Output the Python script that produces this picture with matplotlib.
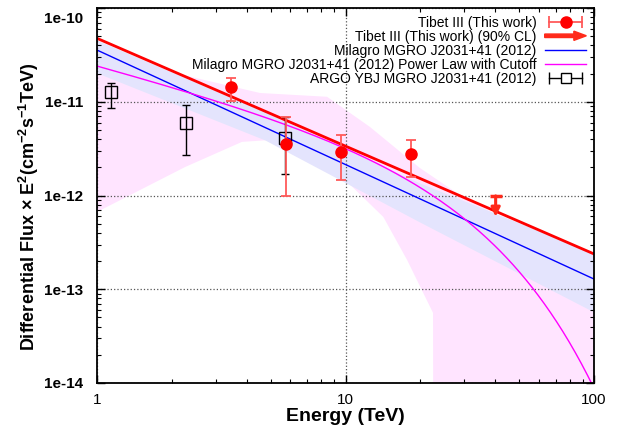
import numpy as np
import matplotlib
matplotlib.use("Agg")
import matplotlib.pyplot as plt
import matplotlib.patches as mpatches
import matplotlib.transforms as mtransforms
from matplotlib.legend_handler import HandlerPatch, HandlerLine2D, HandlerTuple
from matplotlib.ticker import FixedLocator, FuncFormatter, NullFormatter

plt.rcParams['font.family'] = ['Liberation Sans', 'DejaVu Sans']
plt.rcParams['mathtext.fontset'] = 'custom'
plt.rcParams['mathtext.rm'] = 'Liberation Sans'
plt.rcParams['mathtext.bf'] = 'Liberation Sans:bold'
plt.rcParams['mathtext.default'] = 'bf'

# ---------------- data ----------------
# Tibet III (This work)
tibet_E = [3.46, 5.75, 9.59, 18.35]
tibet_F = [1.44e-11, 3.52e-12, 2.93e-12, 2.75e-12]
tibet_F_hi = [1.79e-11, 6.87e-12, 4.42e-12, 3.91e-12]
tibet_F_lo = [1.02e-11, 9.9e-13, 1.45e-12, 1.58e-12]

# Tibet III upper limit (90% CL)
ul_E = [40.2]
ul_F = [9.9e-13]
ul_arrow_frac = 0.6

# Tibet III power-law fit line
tibet_line_E = [1.0, 100.0]
tibet_line_F = [4.75e-11, 2.38e-13]

# Milagro power law
milagro_E = [1.0, 100.0]
milagro_F = [3.56e-11, 1.285e-13]
milagro_band_E = [1.0, 4.74, 19.9, 100.0]
milagro_band_hi = [4.56e-11, 7.78e-12, 1.36e-12, 2.44e-13]
milagro_band_lo = [2.03e-11, 3.91e-12, 5.21e-13, 5.71e-14]

# Milagro power law with cutoff: E^2 dN/dE = N * E^(2-gamma) * exp(-E/Ec)
cut_N = 2.52e-11
cut_gamma = 2.695
cut_Ec = 21.0
cut_band_up_E = [1.0, 4.53, 8.43, 12.55, 19.9, 28.9, 40.7, 100.0]
cut_band_up_F = [3.16e-11, 1.24e-11, 1.13e-11, 5.38e-12, 1.97e-12, 1.01e-12, 6.19e-13, 2.15e-13]
cut_band_lo_E = [1.0, 2.26, 3.83, 4.97, 8.66, 14.2, 17.7, 22.5, 22.6, 100.0]
cut_band_lo_F = [6.67e-13, 2.01e-12, 3.73e-12, 3.91e-12, 2.11e-12, 5.9e-13, 2.05e-13, 5.6e-14, 1e-16, 1e-16]

# ARGO-YBJ
argo_E = [1.14, 2.28, 5.71]
argo_F = [1.28e-11, 5.98e-12, 4.14e-12]
argo_F_hi = [1.57e-11, 9.2e-12, 6.94e-12]
argo_F_lo = [8.65e-12, 2.7e-12, 1.69e-12]

labels = ["Tibet III (This work)",
          "Tibet III (This work) (90% CL)",
          "Milagro MGRO J2031+41 (2012)",
          "Milagro MGRO J2031+41 (2012) Power Law with Cutoff",
          "ARGO YBJ MGRO J2031+41 (2012)"]

x_major = [1, 10, 100]
y_major = [1e-14, 1e-13, 1e-12, 1e-11, 1e-10]

RED = '#ff0000'
RED_ERR = '#ff5a5a'
RED_UL = '#ff2a1a'

# ---------------- figure ----------------
fig = plt.figure(figsize=(6.19, 4.30), dpi=100)
ax = fig.add_axes([97/619, 1-383/430, (594-97)/619, (383-8)/430])
ax.set_xscale('log')
ax.set_yscale('log')
ax.set_xlim(1, 100)
ax.set_ylim(1e-14, 1e-10)

# bands
pink_x = np.concatenate([cut_band_up_E, cut_band_lo_E[::-1]])
pink_y = np.concatenate([cut_band_up_F, cut_band_lo_F[::-1]])
ax.fill(pink_x, pink_y, color='#ffe4ff', lw=0, zorder=1)
ax.fill_between(milagro_band_E, milagro_band_lo, milagro_band_hi,
                color='#e4e4fd', lw=0, zorder=1.1)

# lines
ax.plot(tibet_line_E, tibet_line_F, color=RED, lw=2.0, zorder=4)
ax.plot(milagro_E, milagro_F, color='#0000ff', lw=1.0, zorder=3)
Ec = np.logspace(0, 2, 400)
ax.plot(Ec, cut_N * Ec**(2 - cut_gamma) * np.exp(-Ec / cut_Ec),
        color='#ff00ff', lw=1.0, zorder=3)

# Tibet points
tE = np.array(tibet_E); tF = np.array(tibet_F)
yerr = [tF - np.array(tibet_F_lo), np.array(tibet_F_hi) - tF]
ax.errorbar(tE, tF, yerr=yerr, fmt='o', color=RED, ms=8,
            ecolor=RED_ERR, elinewidth=1.3, capsize=3.5, capthick=1.3, zorder=6)

# upper limit
ax.plot(ul_E, ul_F, marker='_', ms=9, mew=2.5, color=RED_UL, ls='none', zorder=6)
for e, f in zip(ul_E, ul_F):
    ax.annotate('', xy=(e, f * ul_arrow_frac), xytext=(e, f),
                arrowprops=dict(arrowstyle='-|>', color=RED_UL, lw=2.2,
                                mutation_scale=13, shrinkA=0, shrinkB=0), zorder=6)

# ARGO
aE = np.array(argo_E); aF = np.array(argo_F)
ayerr = [aF - np.array(argo_F_lo), np.array(argo_F_hi) - aF]
ax.errorbar(aE, aF, yerr=ayerr, fmt='s', mfc='none', mec='black', ms=8, mew=1.0,
            ecolor='black', elinewidth=1.0, capsize=3, capthick=1.0, zorder=5)

# axes styling
ax.grid(True, which='major', ls=':', color='#555555', lw=0.9)
ax.set_axisbelow(False)
for gl in ax.get_xgridlines() + ax.get_ygridlines():
    gl.set_zorder(2)
x_minor = [m * d for d in [1, 10] for m in range(2, 10)]
y_minor = [m * d for d in y_major[:-1] for m in range(2, 10)]
ax.xaxis.set_major_locator(FixedLocator(x_major))
ax.xaxis.set_minor_locator(FixedLocator(x_minor))
ax.yaxis.set_major_locator(FixedLocator(y_major))
ax.yaxis.set_minor_locator(FixedLocator(y_minor))
ax.xaxis.set_minor_formatter(NullFormatter())
ax.yaxis.set_minor_formatter(NullFormatter())
ax.xaxis.set_major_formatter(FuncFormatter(lambda v, p: f"{v:g}"))
ax.yaxis.set_major_formatter(FuncFormatter(lambda v, p: f"1e{int(round(np.log10(v)))}"))
ax.tick_params(which='both', direction='in', top=True, right=True)
ax.tick_params(which='major', length=6, width=1.0)
ax.tick_params(which='minor', length=3, width=0.8)
ax.tick_params(axis='y', labelsize=11, pad=10)
ax.tick_params(axis='x', labelsize=11, pad=7)
for lab in ax.get_yticklabels():
    lab.set_fontweight('bold')
for s in ax.spines.values():
    s.set_linewidth(1.3)
    s.set_zorder(10)

ax.set_xlabel("Energy (TeV)", fontsize=14, fontweight='bold', labelpad=1)
ax.set_ylabel("Differential Flux \u00d7 E$^{2}$(cm$^{-2}$s$^{-1}$TeV)",
              fontsize=13, fontweight='bold')
ax.yaxis.set_label_coords(-0.113, 0.47)

# legend handles
t_bar = plt.Line2D([], [], color=RED_ERR, lw=1.3, marker='|', ms=8, mew=1.3)
t_pt = plt.Line2D([], [], ls='none', marker='o', color=RED, ms=8)
h_ul = mpatches.FancyArrow(0, 0, 1, 0, color=RED_UL)
h_blue = plt.Line2D([], [], color='#0000ff', lw=1.0)
h_mag = plt.Line2D([], [], color='#ff00ff', lw=1.0)
a_bar = plt.Line2D([], [], color='black', lw=1.0, marker='|', ms=8, mew=1.0)
a_pt = plt.Line2D([], [], ls='none', marker='s', mfc='white', mec='black', ms=7.5, mew=1.0)


def make_arrow(legend, orig_handle, xdescent, ydescent, width, height, fontsize):
    return mpatches.FancyArrow(0, height / 2 - ydescent, width, 0, length_includes_head=True,
                               width=2.5, head_width=height * 0.95, head_length=9,
                               color=RED_UL, lw=0)


hmap = {mpatches.FancyArrow: HandlerPatch(patch_func=make_arrow),
        t_bar: HandlerLine2D(numpoints=2),
        a_bar: HandlerLine2D(numpoints=2),
        tuple: HandlerTuple(ndivide=1, pad=0)}

leg = ax.legend([(t_bar, t_pt), h_ul, h_blue, h_mag, (a_bar, a_pt)], labels,
                handler_map=hmap,
                loc='upper right', bbox_to_anchor=(1.0, 1.0), frameon=False,
                markerfirst=False, fontsize=10, labelspacing=0.0, handlelength=3.0,
                handletextpad=0.6, borderaxespad=0.3, borderpad=0.25)
leg.set_zorder(20)
for t in leg.get_texts():
    t.set_ha('right')

# gnuplot-like: top y label nudged inside
fig.canvas.draw()
off = mtransforms.ScaledTranslation(0, -7/72, fig.dpi_scale_trans)
for tick in ax.yaxis.get_major_ticks():
    if abs(np.log10(tick.get_loc()) + 10) < 1e-6:
        tick.label1.set_transform(tick.label1.get_transform() + off)

fig.savefig("out.png", dpi=100)
